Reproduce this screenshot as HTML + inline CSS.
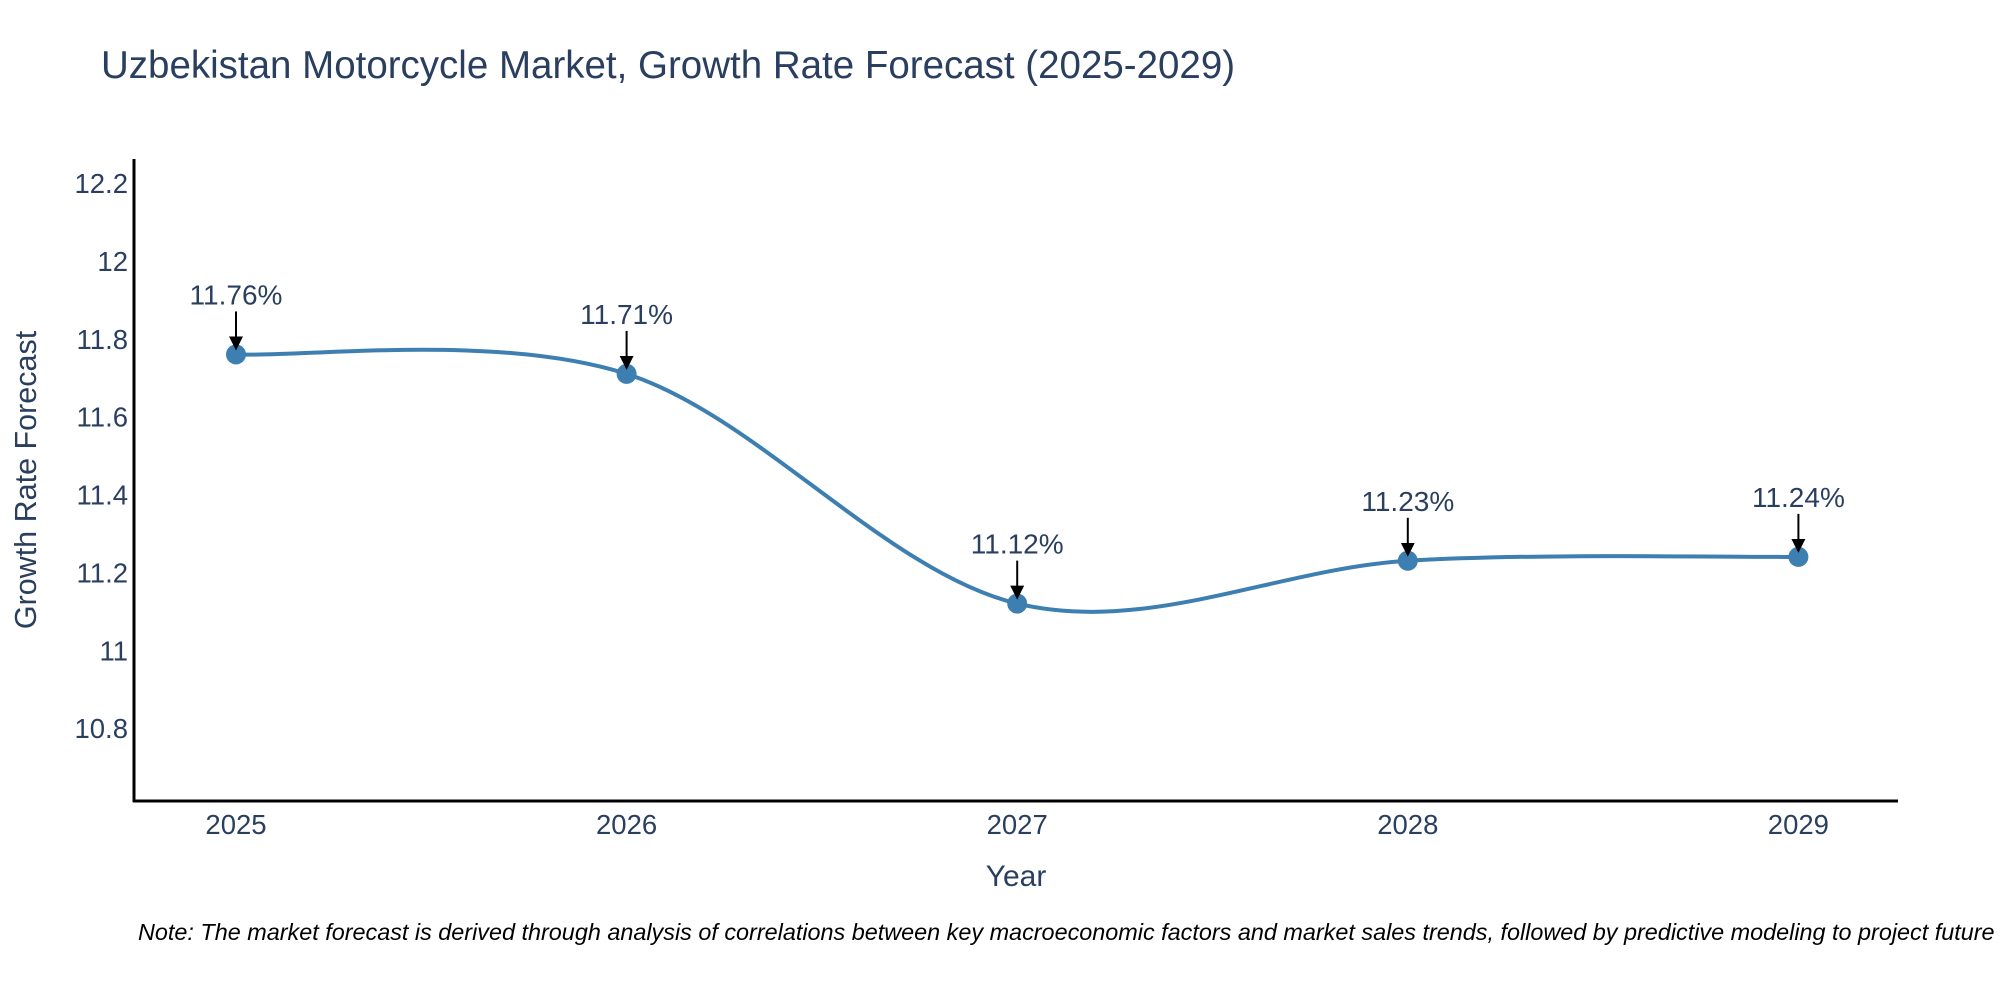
<!DOCTYPE html>
<html><head><meta charset="utf-8"><style>
html,body{margin:0;padding:0;background:#fff;overflow:hidden;}
svg{display:block;font-family:"Liberation Sans",Arial,sans-serif;}
</style></head><body>
<svg id="chart" width="2000" height="1000" viewBox="0 0 2000 1000">
<text x="101" y="78" font-size="38.5" fill="#2a3f5f">Uzbekistan Motorcycle Market, Growth Rate Forecast (2025-2029)</text>
<g id="yticks"></g>
<g id="xticks"></g>
<line x1="134" y1="159" x2="134" y2="802" stroke="#000" stroke-width="3"/>
<line x1="133" y1="801" x2="1898" y2="801" stroke="#000" stroke-width="3"/>
<text transform="translate(36,480) rotate(-90)" text-anchor="middle" font-size="30.5" fill="#2a3f5f">Growth Rate Forecast</text>
<text x="1016" y="886" text-anchor="middle" font-size="30" fill="#2a3f5f">Year</text>
<g id="series"></g>
<g id="annots"></g>
<text x="138" y="940" font-size="23.4" font-style="italic" fill="#000">Note: The market forecast is derived through analysis of correlations between key macroeconomic factors and market sales trends, followed by predictive modeling to project future sales.</text>
<defs><marker id="ah" markerWidth="14" markerHeight="14" refX="10" refY="7" orient="auto" markerUnits="userSpaceOnUse" viewBox="0 0 14 14"><path d="M0,0 L14,7 L0,14 z" fill="#000"/></marker></defs>
</svg>
<script>
const years = [2025, 2026, 2027, 2028, 2029];
const values = [11.76, 11.71, 11.12, 11.23, 11.24];
const labels = ["11.76%", "11.71%", "11.12%", "11.23%", "11.24%"];
const yTicks = [10.8, 11, 11.2, 11.4, 11.6, 11.8, 12, 12.2];
const yTickLabels = ["10.8", "11", "11.2", "11.4", "11.6", "11.8", "12", "12.2"];

const NS = "http://www.w3.org/2000/svg";
const yMin = 10.613, yMax = 12.262, pTop = 159, pBot = 801;
function ys(v){ return pBot - (v - yMin) / (yMax - yMin) * (pBot - pTop); }
function xs(yr){ return 236 + (yr - 2025) * 390.6; }
function mk(tag, attrs, parent){ const e = document.createElementNS(NS, tag); for (const k in attrs) e.setAttribute(k, attrs[k]); parent.appendChild(e); return e; }

const yg = document.getElementById('yticks');
yTicks.forEach((t, i) => {
  const e = mk('text', {x: 128, y: ys(t) + 10, 'text-anchor': 'end', 'font-size': 27.5, fill: '#2a3f5f'}, yg);
  e.textContent = yTickLabels[i];
  
  
});
const xg = document.getElementById('xticks');
years.forEach(y => {
  const e = mk('text', {x: xs(y), y: 834, 'text-anchor': 'middle', 'font-size': 27.5, fill: '#2a3f5f'}, xg);
  e.textContent = y;
  
  
});

const pts = years.map((y, i) => [xs(y), ys(values[i])]);
let d = `M${pts[0][0]},${pts[0][1]}`;
const s = 1 / 6;
for (let i = 0; i < pts.length - 1; i++) {
  const p0 = pts[Math.max(0, i - 1)], p1 = pts[i], p2 = pts[i + 1], p3 = pts[Math.min(pts.length - 1, i + 2)];
  const c1 = [p1[0] + (p2[0] - p0[0]) * s, p1[1] + (p2[1] - p0[1]) * s];
  const c2 = [p2[0] - (p3[0] - p1[0]) * s, p2[1] - (p3[1] - p1[1]) * s];
  d += ` C${c1[0]},${c1[1]} ${c2[0]},${c2[1]} ${p2[0]},${p2[1]}`;
}
const sg = document.getElementById('series');
const line = mk('path', {d: d, fill: 'none', stroke: '#3d7fb0', 'stroke-width': 4}, sg);


pts.forEach(p => {
  const c = mk('circle', {cx: p[0], cy: p[1], r: 10, fill: '#3d7fb0'}, sg);
  
  
});

const ag = document.getElementById('annots');
pts.forEach((p, i) => {
  const a = mk('line', {x1: p[0], y1: p[1] - 43, x2: p[0], y2: p[1] - 8, stroke: '#000', 'stroke-width': 2, 'marker-end': 'url(#ah)'}, ag);
  
  
  const t = mk('text', {x: p[0], y: p[1] - 50, 'text-anchor': 'middle', 'font-size': 28, fill: '#2a3f5f'}, ag);
  t.textContent = labels[i];
  
  
});
</script>
</body></html>
